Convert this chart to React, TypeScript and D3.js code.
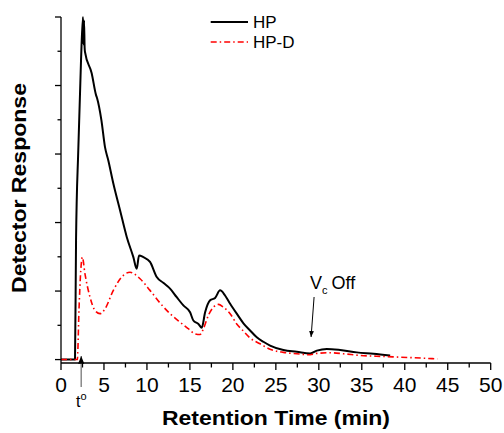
import React from 'react'
import * as d3 from 'd3'

// retention time (min) / detector response (arbitrary units)
const hpTime = [0, 1.63, 1.75, 2.01, 2.33, 2.56, 2.62, 2.68, 2.75, 2.79, 3.57, 4.08, 4.2, 4.7, 5.12, 5.5, 6.09, 6.87, 7.65, 8.42, 8.81, 9.08, 9.58, 10.36, 11.14, 11.9, 12.69, 13.47, 14.24, 15.02, 15.4, 15.99, 16.38, 16.77, 17.35, 17.93, 18.51, 19.09, 19.68, 20.45, 21.23, 22.0, 22.78, 23.55, 24.33, 25.88, 27.44, 28.99, 29.77, 30.93, 32.48, 34.42, 36.36, 38.3]
const hpResponse = [0, 0, 3.48, 6.11, 8.74, 10.0, 9.2, 9.9, 9.1, 8.98, 8.36, 7.72, 7.63, 6.99, 6.2, 5.82, 5.14, 4.36, 3.58, 2.99, 2.65, 3.04, 2.99, 2.85, 2.41, 2.24, 2.07, 1.82, 1.58, 1.38, 1.14, 1.04, 0.93, 1.38, 1.73, 1.8, 2.02, 1.87, 1.63, 1.34, 1.06, 0.85, 0.65, 0.52, 0.41, 0.28, 0.23, 0.18, 0.26, 0.31, 0.28, 0.21, 0.17, 0.12]

const hpdTime = [0, 1.9, 2.1, 2.3, 2.48, 2.79, 3.38, 3.96, 4.54, 5.12, 6.09, 7.26, 8.03, 9.2, 10.36, 11.53, 12.69, 13.86, 14.82, 15.6, 16.18, 16.57, 17.15, 17.74, 18.32, 18.9, 19.68, 20.45, 21.23, 22.0, 23.17, 24.33, 25.88, 27.44, 28.99, 29.77, 31.3, 32.87, 34.81, 37.5, 39.5, 42.2, 43.8]
const hpdResponse = [0, 0, 1.5, 2.6, 2.99, 2.5, 1.82, 1.43, 1.34, 1.48, 2.02, 2.46, 2.55, 2.36, 2.02, 1.65, 1.34, 1.09, 0.9, 0.75, 0.73, 0.9, 1.29, 1.53, 1.61, 1.53, 1.34, 1.04, 0.83, 0.63, 0.46, 0.3, 0.21, 0.17, 0.14, 0.18, 0.2, 0.17, 0.12, 0.09, 0.07, 0.04, 0.02]

const xTicks = [0, 5, 10, 15, 20, 25, 30, 35, 40, 45, 50]
const xMinorTicks = [2.5, 7.5, 12.5, 17.5, 22.5, 27.5, 32.5, 37.5, 42.5, 47.5]
const yTicks = [0, 2, 4, 6, 8, 10]
const yMinorTicks = [1, 3, 5, 7, 9]

const seriesNames = ['HP', 'HP-D']

const tZero = 2.35
const vcOff = 29.1

const font = 'Liberation Sans, Arial, sans-serif'

const App = () => {
  const width = 504
  const height = 433
  const x = d3.scaleLinear().domain([0, 50]).range([61, 490.7])
  const y = d3.scaleLinear().domain([-0.1, 10]).range([363, 17])

  const line = d3
    .line<[number, number]>()
    .x((d) => x(d[0]))
    .y((d) => y(d[1]))
    .curve(d3.curveMonotoneX)

  const hp = hpTime.map((t, i) => [t, hpResponse[i]] as [number, number])
  const hpd = hpdTime.map((t, i) => [t, hpdResponse[i]] as [number, number])

  const x0 = x(0)
  const axisY = y(-0.1)
  const dash = '6 3 1.5 3'

  return (
    <svg
      width={width}
      height={height}
      style={{ position: 'absolute', left: 0, top: 0, background: '#fff' }}
      fontFamily={font}
    >
      <defs>
        <marker id="head" viewBox="0 0 10 10" refX="10" refY="5" markerWidth="6" markerHeight="8" orient="auto">
          <path d="M0,1 L10,5 L0,9 z" fill="#000" />
        </marker>
      </defs>

      {/* curves */}
      <path d={line(hp) ?? ''} fill="none" stroke="#000" strokeWidth={2} strokeLinejoin="round" />
      <path d={line(hpd) ?? ''} fill="none" stroke="#ff0000" strokeWidth={1.6} strokeDasharray={dash} />

      {/* axes */}
      <g stroke="#000" strokeWidth={1.3}>
        <line x1={x0} x2={x0} y1={y(10)} y2={axisY} />
        <line x1={x0} x2={x(50)} y1={axisY} y2={axisY} />
        {yTicks.map((v) => (
          <line key={'yt' + v} x1={x0 - 6} x2={x0} y1={y(v)} y2={y(v)} />
        ))}
        {yMinorTicks.map((v) => (
          <line key={'ym' + v} x1={x0 - 3.5} x2={x0} y1={y(v)} y2={y(v)} />
        ))}
        {xTicks.map((t) => (
          <line key={'xt' + t} x1={x(t)} x2={x(t)} y1={axisY} y2={axisY + 7} />
        ))}
        {xMinorTicks.map((t) => (
          <line key={'xm' + t} x1={x(t)} x2={x(t)} y1={axisY} y2={axisY + 4.5} />
        ))}
      </g>
      {xTicks.map((t) => (
        <text key={'xl' + t} x={x(t)} y={391.5} fontSize={21} textAnchor="middle">
          {t}
        </text>
      ))}

      {/* titles */}
      <text
        x={162}
        y={425}
        fontSize={20}
        fontWeight="bold"
        textLength={228}
        lengthAdjust="spacingAndGlyphs"
      >
        Retention Time (min)
      </text>
      <text
        transform="translate(26,293) rotate(-90)"
        fontSize={21}
        fontWeight="bold"
        textLength={210}
        lengthAdjust="spacingAndGlyphs"
      >
        Detector Response
      </text>

      {/* legend */}
      <line x1={210.7} x2={248} y1={22} y2={22} stroke="#000" strokeWidth={1.8} />
      <text x={253} y={28} fontSize={17}>
        {seriesNames[0]}
      </text>
      <line x1={210.7} x2={248} y1={42} y2={42} stroke="#ff0000" strokeWidth={1.6} strokeDasharray={dash} />
      <text x={253} y={48} fontSize={17}>
        {seriesNames[1]}
      </text>

      {/* t0 marker */}
      <line x1={x(tZero)} x2={x(tZero)} y1={387} y2={356} stroke="#777" strokeWidth={1.3} markerEnd="url(#head)" />
      <text x={76} y={407} fontSize={16}>
        t<tspan dy={-7} fontSize={11}>o</tspan>
      </text>

      {/* Vc off annotation */}
      <line x1={x(vcOff) + 3} x2={x(vcOff)} y1={297} y2={337} stroke="#000" strokeWidth={1} markerEnd="url(#head)" />
      <text x={310} y={289} fontSize={18}>
        V<tspan dy={5} fontSize={11}>c</tspan>
        <tspan dy={-5} dx={4}>Off</tspan>
      </text>
    </svg>
  )
}

export default App
